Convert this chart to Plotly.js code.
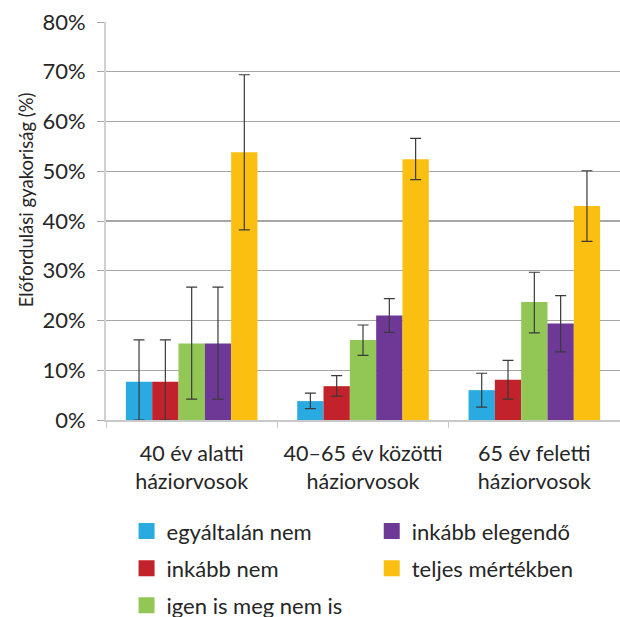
<!DOCTYPE html>
<html>
<head>
<meta charset="utf-8">
<script src="https://cdn.plot.ly/plotly-3.0.1.min.js"></script>
<style>html,body{margin:0;padding:0;background:#fff;}#chart{width:620px;height:617px;}</style>
</head>
<body>
<div id="chart"></div>
<script>
const categories = ["40 év alatti<br>háziorvosok", "40–65 év közötti<br>háziorvosok", "65 év feletti<br>háziorvosok"];
const seriesNames = ["egyáltalán nem", "inkább nem", "igen is meg nem is", "inkább elegendő", "teljes mértékben"];
const seriesColors = ["#29ABE2", "#C1222B", "#92C756", "#6E3996", "#FBBF12"];
const yTitle = "Előfordulási gyakoriság (%)";
// values in %
const egyaltalanNem = [7.7, 3.8, 6.0];
const inkabbNem = [7.7, 6.8, 8.1];
const igenIsMegNemIs = [15.4, 16.1, 23.7];
const inkabbElegendo = [15.4, 21.0, 19.4];
const teljesMertekben = [53.8, 52.4, 43.0];
// error bar upper / lower limits in %
const egyaltalanNemHi = [16.1, 5.4, 9.4];
const egyaltalanNemLo = [0.0, 2.3, 2.6];
const inkabbNemHi = [16.1, 8.9, 12.0];
const inkabbNemLo = [0.0, 4.8, 4.2];
const igenIsMegNemIsHi = [26.7, 19.1, 29.7];
const igenIsMegNemIsLo = [4.2, 13.0, 17.5];
const inkabbElegendoHi = [26.7, 24.4, 25.0];
const inkabbElegendoLo = [4.2, 17.6, 13.7];
const teljesMertekbenHi = [69.4, 56.6, 50.1];
const teljesMertekbenLo = [38.2, 48.3, 35.9];
const yTickVals = [0, 10, 20, 30, 40, 50, 60, 70, 80];
const yTickText = ["0%", "10%", "20%", "30%", "40%", "50%", "60%", "70%", "80%"];

const values = [egyaltalanNem, inkabbNem, igenIsMegNemIs, inkabbElegendo, teljesMertekben];
const his = [egyaltalanNemHi, inkabbNemHi, igenIsMegNemIsHi, inkabbElegendoHi, teljesMertekbenHi];
const los = [egyaltalanNemLo, inkabbNemLo, igenIsMegNemIsLo, inkabbElegendoLo, teljesMertekbenLo];
const legendOf = ["legend", "legend", "legend", "legend2", "legend2"];

const FONT = "Lato, 'Open Sans', sans-serif";
const TXT = "#262626";
const barTraces = values.map((v, i) => ({
  type: "bar",
  name: seriesNames[i],
  x: categories,
  y: v,
  showlegend: false,
  marker: {color: seriesColors[i], line: {width: 0}},
  error_y: {
    type: "data", symmetric: false,
    array: v.map((val, j) => his[i][j] - val),
    arrayminus: v.map((val, j) => val - los[i][j]),
    color: "#3a3a3a", thickness: 1.2, width: 5.5
  }
}));
// legend-only key entries (square swatches, no data drawn)
const keyTraces = seriesNames.map((n, i) => ({
  type: "scatter", mode: "markers",
  name: n, x: [null], y: [null],
  legend: legendOf[i], legendgroup: "g" + i,
  marker: {symbol: "square", size: 16, color: seriesColors[i], line: {width: 0}},
  hoverinfo: "skip"
}));

const legendCommon = {
  yref: "container", yanchor: "top", y: 0.173,
  xref: "paper", xanchor: "left",
  orientation: "v", bgcolor: "rgba(0,0,0,0)",
  font: {family: FONT, size: 22, color: TXT},
  tracegroupgap: 5.5, itemwidth: 30, itemsizing: "trace"
};

const layout = {
  width: 620, height: 617,
  margin: {l: 106, r: 0, t: 22, b: 197},
  paper_bgcolor: "#fff", plot_bgcolor: "#fff",
  font: {family: FONT, size: 21, color: TXT},
  barmode: "group", bargap: 0.232, bargroupgap: 0,
  showlegend: true,
  xaxis: {
    type: "category",
    showline: true, linecolor: "#c8c8c8", linewidth: 1.5,
    ticks: "outside", tickson: "boundaries", ticklen: 6, tickcolor: "#c8c8c8",
    tickfont: {family: FONT, size: 21.5, color: TXT},
    ticklabelstandoff: 14,
    showgrid: false, zeroline: false
  },
  yaxis: {
    range: [0, 80], tickvals: yTickVals, ticktext: yTickText,
    showline: true, linecolor: "#d0d0d0", linewidth: 2,
    ticks: "outside", ticklen: 7, tickcolor: "#a6a6a6",
    showgrid: true, gridcolor: "#a6a6a6", gridwidth: 1.3, zeroline: false,
    tickfont: {family: FONT, size: 22, color: TXT},
    ticklabelstandoff: 7
  },
  annotations: [{
    text: yTitle, textangle: -90, showarrow: false,
    xref: "paper", yref: "paper",
    x: -0.155, y: 0.553, xanchor: "center", yanchor: "middle",
    font: {family: FONT, size: 18.5, color: TXT}
  }],
  legend: Object.assign({}, legendCommon, {x: 0.04}),
  legend2: Object.assign({}, legendCommon, {x: 0.517})
};

Plotly.newPlot("chart", barTraces.concat(keyTraces), layout, {displayModeBar: false, staticPlot: true});
</script>
</body>
</html>
